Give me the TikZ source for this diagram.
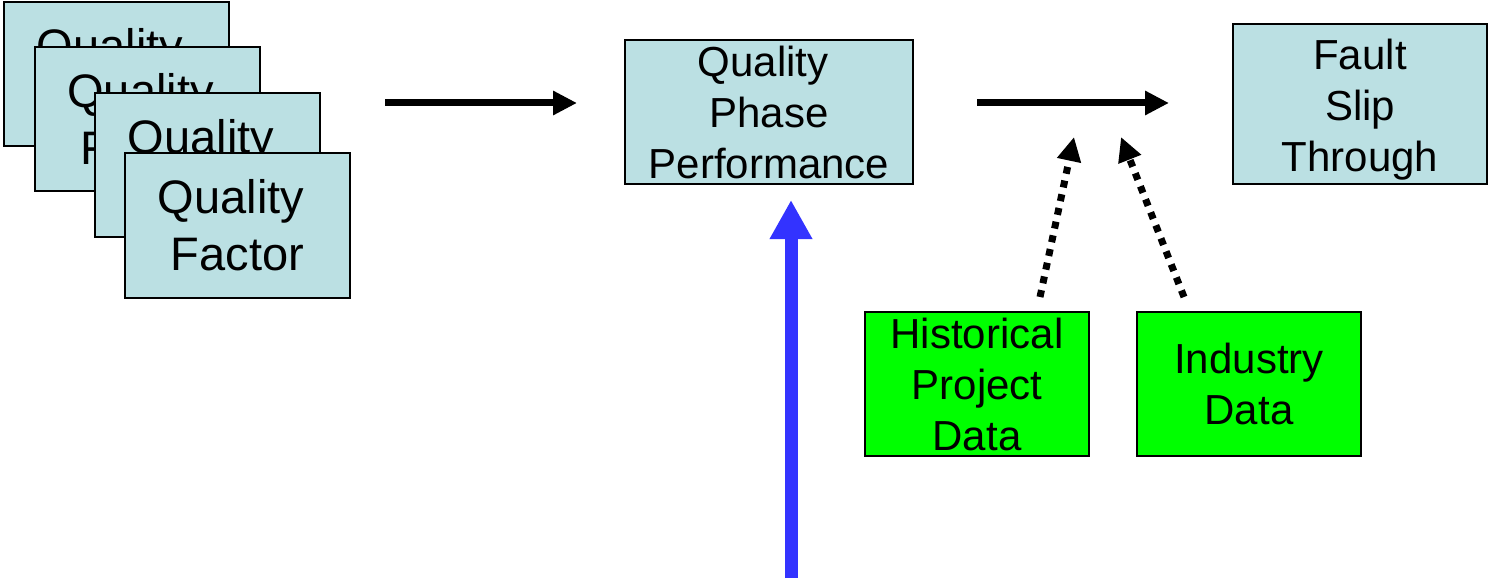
\documentclass[tikz,border=0pt]{standalone}
\usepackage{fontspec}
\setmainfont{Liberation Sans}
\usetikzlibrary{arrows.meta}
\definecolor{boxblue}{HTML}{BBE0E3}
\definecolor{boxgreen}{HTML}{00FF00}
\definecolor{pushblue}{HTML}{3333FF}
\tikzset{
  card/.style={draw=black, line width=2pt, fill=boxblue, inner sep=0pt, align=center,
    minimum width=225pt, minimum height=144pt, font=\fontsize{47}{57}\selectfont},
  infobox/.style={draw=black, line width=2pt, fill=#1, inner sep=0pt, align=center,
    font=\fontsize{42}{51}\selectfont},
  boxtext/.style={inner sep=0pt, align=center, font=\fontsize{42}{51}\selectfont},
  flow/.style={line width=7pt, -{Triangle[length=24pt,width=23pt]}},
  feed/.style={line width=7pt, dash pattern=on 7pt off 7pt, -{Triangle[length=24pt,width=23pt]}},
  push/.style={line width=13pt, draw=pushblue, -{Triangle[length=39pt,width=40pt]}}
}
% a kept trailing word space
\newcommand{\tsp}{\hspace*{0.278em}}
\begin{document}
\begin{tikzpicture}[x=1pt, y=-1pt]
\useasboundingbox (0,0) rectangle (1490,580);

% stack of quality factor cards, back to front
\node[card] (qf1) at (116.5,74) {Quality\tsp\\Factor};
\node[card] (qf2) at (147,119) {Quality\tsp\\Factor};
\node[card] (qf3) at (207.5,165) {Quality\tsp\\Factor};
\node[card] (qf4) at (237.5,225.5) {Quality\tsp\\Factor};

\node[infobox=boxblue, minimum width=288pt, minimum height=144pt] (qpp) at (769,112)
  {Quality\tsp\\Phase\\Performance};
\node[infobox=boxblue, minimum width=254pt, minimum height=160pt,
  label={[boxtext, yshift=-6pt]center:Fault\\Slip\\Through}] (fst) at (1360,104) {};
\node[infobox=boxgreen, minimum width=224pt, minimum height=144pt] (hist) at (977,384)
  {Historical\\Project\\Data};
\node[infobox=boxgreen, minimum width=224pt, minimum height=144pt] (ind) at (1249,384)
  {Industry\\Data};

% arrow end points
\coordinate (a1s) at (385,103);
\coordinate (a1e) at (577,103);
\coordinate (a2s) at (977,103);
\coordinate (a2e) at (1169,103);
\coordinate (h1s) at (1040,297);
\coordinate (h1e) at (1074,137);
\coordinate (i1s) at (1184,297);
\coordinate (i1e) at (1121,137);
\coordinate (ps) at (791,578);
\coordinate (pe) at (791,200);

\draw[flow] (a1s) -- (a1e);
\draw[flow] (a2s) -- (a2e);
\draw[feed] (h1s) -- (h1e);
\draw[feed] (i1s) -- (i1e);
\draw[push] (ps) -- (pe);
\end{tikzpicture}
\end{document}
